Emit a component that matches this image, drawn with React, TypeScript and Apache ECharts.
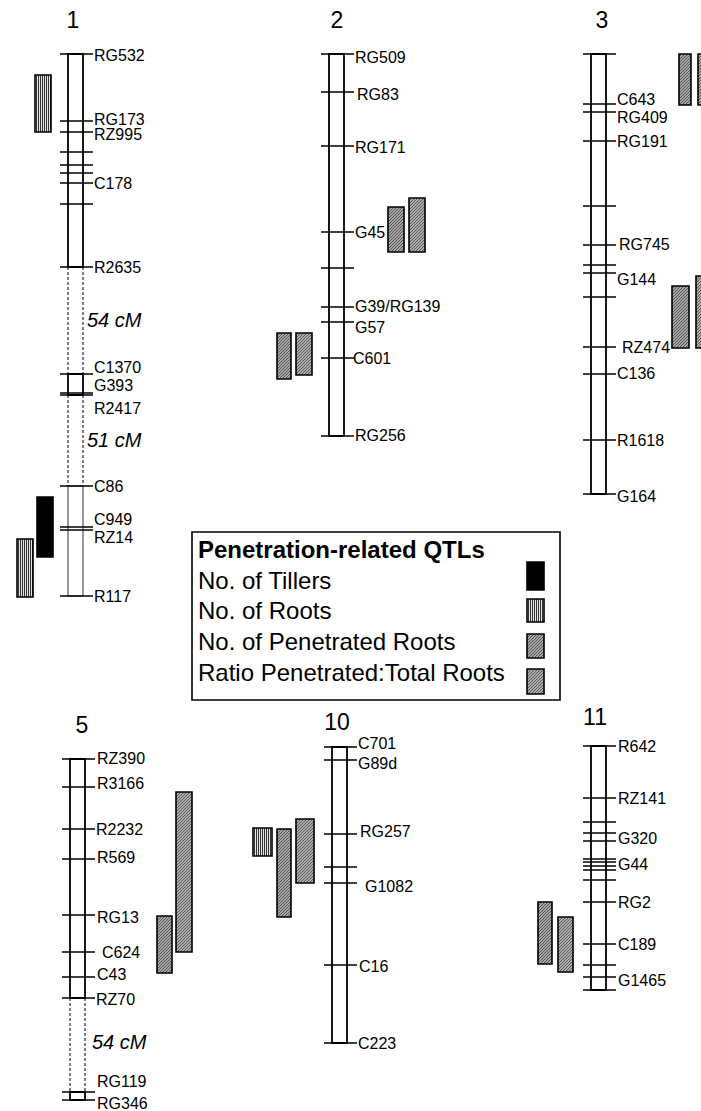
import React, { useEffect, useRef } from "react";
import * as echarts from "echarts";

// ---------- DATA ----------
const CHROMOSOMES = ["1", "2", "3", "5", "10", "11"];

// chromosome segments: [chromosome index, start, end, style] style 0 = solid, 1 = dashed gap, 2 = thin solid
const SEGMENTS = [
  [0, 54, 267, 0], [0, 267, 374, 1], [0, 374, 395, 0], [0, 395, 486, 1], [0, 486, 596, 2],
  [1, 54, 436, 0],
  [2, 54, 494, 0],
  [3, 759, 998, 0], [3, 998, 1092, 1], [3, 1092, 1100, 0],
  [4, 747, 1043, 0],
  [5, 746, 990, 0],
];

// marker positions: [chromosome index, position]
const MARKERS = [
  [0, 54], [0, 121], [0, 132], [0, 152], [0, 165], [0, 173], [0, 183], [0, 204], [0, 267],
  [0, 374], [0, 393], [0, 395], [0, 486], [0, 527], [0, 530], [0, 596],
  [1, 54], [1, 92], [1, 146], [1, 232], [1, 268], [1, 307], [1, 322], [1, 358], [1, 436],
  [2, 54], [2, 104], [2, 112], [2, 141], [2, 206], [2, 245], [2, 265], [2, 273], [2, 297],
  [2, 347], [2, 374], [2, 440], [2, 494],
  [3, 759], [3, 787], [3, 829], [3, 859], [3, 915], [3, 952], [3, 977], [3, 998], [3, 1092], [3, 1100],
  [4, 747], [4, 760], [4, 834], [4, 867], [4, 883], [4, 965], [4, 1043],
  [5, 746], [5, 798], [5, 822], [5, 833], [5, 841], [5, 859], [5, 862], [5, 866], [5, 870],
  [5, 880], [5, 902], [5, 944], [5, 965], [5, 977], [5, 990],
];

// marker labels: [chromosome index, name, label position, extra offset]
const LABELS: [number, string, number, number][] = [
  [0, "RG532", 55, 0], [0, "RG173", 119, 0], [0, "RZ995", 134, 0], [0, "C178", 183, 0],
  [0, "R2635", 267, 0], [0, "C1370", 367, 0], [0, "G393", 385, 0], [0, "R2417", 408, 0],
  [0, "C86", 486, 0], [0, "C949", 519, 0], [0, "RZ14", 537, 0], [0, "R117", 596, 0],
  [1, "RG509", 57, 0], [1, "RG83", 94, 2], [1, "RG171", 147, 0], [1, "G45", 232, 0],
  [1, "G39/RG139", 306, 0], [1, "G57", 327, 0], [1, "C601", 358, -2], [1, "RG256", 435, 0],
  [2, "C643", 99, 0], [2, "RG409", 117, 0], [2, "RG191", 141, 0], [2, "RG745", 244, 2],
  [2, "G144", 279, 0], [2, "RZ474", 347, 5], [2, "C136", 373, 0], [2, "R1618", 440, 0], [2, "G164", 496, 0],
  [3, "RZ390", 758, 1], [3, "R3166", 783, 1], [3, "R2232", 829, 0], [3, "R569", 857, 1],
  [3, "RG13", 917, 1], [3, "C624", 952, 6], [3, "C43", 974, 1], [3, "RZ70", 999, 0],
  [3, "RG119", 1081, 1], [3, "RG346", 1103, 1],
  [4, "C701", 743, 0], [4, "G89d", 763, 0], [4, "RG257", 831, 2], [4, "G1082", 886, 7],
  [4, "C16", 966, 1], [4, "C223", 1043, 0],
  [5, "R642", 746, 1], [5, "RZ141", 798, 1], [5, "G320", 838, 1], [5, "G44", 864, 1],
  [5, "RG2", 902, 1], [5, "C189", 944, 1], [5, "G1465", 980, 1],
];

// gap distances: [chromosome index, text, position]
const GAPS: [number, string, number][] = [
  [0, "54 cM", 320], [0, "51 cM", 440], [3, "54 cM", 1042],
];

const TRAITS = ["No. of Tillers", "No. of Roots", "No. of Penetrated Roots", "Ratio Penetrated:Total Roots"];
const LEGEND_TITLE = "Penetration-related QTLs";

// QTL intervals: [chromosome index, trait index, start, end]
const QTLS = [
  [0, 1, 75, 132], [0, 0, 497, 557], [0, 1, 539, 597],
  [1, 2, 207, 252], [1, 3, 198, 252], [1, 2, 333, 379], [1, 3, 333, 375],
  [2, 2, 54, 105], [2, 3, 54, 105], [2, 2, 286, 348], [2, 3, 276, 348],
  [3, 2, 916, 973], [3, 3, 792, 952],
  [4, 1, 828, 856], [4, 2, 829, 917], [4, 3, 819, 883],
  [5, 2, 902, 964], [5, 3, 917, 972],
];

// ---------- LAYOUT ----------
const W = 701;
const H = 1111;
const BAR_LEFT = [68, 329, 591, 70, 332, 591];
const BAR_W = 15;
const TITLE_X = [73, 337, 602, 82, 337, 595];
const TITLE_Y = [20, 20, 20, 725, 722, 717];
const QTL_X = [35, 37, 17, 388, 409, 277, 296, 679, 698, 672, 696, 157, 176, 253, 277, 296, 538, 558];
const QTL_W = [16, 16, 16, 16, 16, 14, 16, 12, 16, 17, 16, 15, 16, 19, 14, 18, 14, 15];
const FONT = '"Liberation Sans", Arial, Helvetica, sans-serif';

function makePattern(w: number, h: number, paint: (x: number, y: number) => string) {
  const c = document.createElement("canvas");
  c.width = w;
  c.height = h;
  const ctx = c.getContext("2d")!;
  for (let x = 0; x < w; x++) {
    for (let y = 0; y < h; y++) {
      ctx.fillStyle = paint(x, y);
      ctx.fillRect(x, y, 1, 1);
    }
  }
  return { image: c.toDataURL(), imageWidth: w, imageHeight: h, repeat: "repeat" };
}

export default function App() {
  const ref = useRef<HTMLDivElement>(null);

  useEffect(() => {
    document.body.style.margin = "0";
    if (!ref.current) return;
    const chart = echarts.init(ref.current, undefined, { renderer: "svg" });

    const fills: any[] = [
      "#000000",
      makePattern(2, 1, (x) => (x === 0 ? "#333333" : "#e4e4e4")),
      makePattern(3, 3, (x, y) => ((x + y) % 3 === 0 ? "#555555" : "#a6a6a6")),
      makePattern(3, 3, (x, y) => ((x + y) % 3 === 0 ? "#5c5c5c" : "#acacac")),
    ];

    const textStyle = (align: string) => ({
      align, verticalAlign: "middle", textAlign: align, textVerticalAlign: "middle",
    });

    const segSeries = {
      type: "custom",
      coordinateSystem: "cartesian2d",
      z: 1,
      data: SEGMENTS.map((s) => [BAR_LEFT[s[0]], s[1], s[2]]),
      renderItem: (params: any, api: any) => {
        const [c, a, b, st] = SEGMENTS[params.dataIndex];
        const p1 = api.coord([BAR_LEFT[c], a]);
        const p2 = api.coord([BAR_LEFT[c] + BAR_W, b]);
        if (st === 1) {
          return {
            type: "group",
            children: [
              { type: "line", shape: { x1: p1[0], y1: p1[1], x2: p1[0], y2: p2[1] }, style: { stroke: "#000", lineWidth: 1, lineDash: [3, 2] } },
              { type: "line", shape: { x1: p2[0], y1: p1[1], x2: p2[0], y2: p2[1] }, style: { stroke: "#000", lineWidth: 1, lineDash: [3, 2] } },
            ],
          };
        }
        return {
          type: "rect",
          shape: { x: p1[0], y: p1[1], width: p2[0] - p1[0], height: p2[1] - p1[1] },
          style: { fill: "#fff", stroke: st === 2 ? "#555" : "#000", lineWidth: st === 2 ? 1.2 : 1.8 },
        };
      },
    };

    const markerSeries = {
      type: "custom",
      coordinateSystem: "cartesian2d",
      z: 2,
      data: MARKERS.map((m) => [BAR_LEFT[m[0]], m[1]]),
      renderItem: (params: any, api: any) => {
        const [c, pos] = MARKERS[params.dataIndex];
        const p1 = api.coord([BAR_LEFT[c] - 8, pos]);
        const p2 = api.coord([BAR_LEFT[c] + BAR_W + 10, pos]);
        return {
          type: "line",
          shape: { x1: p1[0], y1: p1[1], x2: p2[0], y2: p2[1] },
          style: { stroke: "#000", lineWidth: 1.6 },
        };
      },
    };

    const labelSeries = {
      type: "custom",
      coordinateSystem: "cartesian2d",
      z: 3,
      data: LABELS.map((l) => [BAR_LEFT[l[0]] + BAR_W + 11 + l[3], l[2]]),
      renderItem: (params: any, api: any) => {
        const [c, name, pos, dx] = LABELS[params.dataIndex];
        const p = api.coord([BAR_LEFT[c] + BAR_W + 11 + dx, pos]);
        return {
          type: "text",
          style: {
            text: name, x: p[0], y: p[1], fill: "#000",
            fontSize: 16, fontFamily: FONT, ...textStyle("left"),
          },
        };
      },
    };

    const gapSeries = {
      type: "custom",
      coordinateSystem: "cartesian2d",
      z: 3,
      data: GAPS.map((g) => [BAR_LEFT[g[0]] + BAR_W + 4, g[2]]),
      renderItem: (params: any, api: any) => {
        const [c, t, pos] = GAPS[params.dataIndex];
        const p = api.coord([BAR_LEFT[c] + BAR_W + (c === 3 ? 7 : 4), pos]);
        return {
          type: "text",
          style: {
            text: t, x: p[0], y: p[1], fill: "#000",
            fontSize: 20, fontStyle: "italic", fontFamily: FONT, ...textStyle("left"),
          },
        };
      },
    };

    const titleSeries = {
      type: "custom",
      coordinateSystem: "cartesian2d",
      z: 3,
      data: CHROMOSOMES.map((_, i) => [TITLE_X[i], TITLE_Y[i]]),
      renderItem: (params: any, api: any) => {
        const i = params.dataIndex;
        const p = api.coord([TITLE_X[i], TITLE_Y[i]]);
        return {
          type: "text",
          style: {
            text: CHROMOSOMES[i], x: p[0], y: p[1], fill: "#000",
            fontSize: 23, fontFamily: FONT, ...textStyle("center"),
          },
        };
      },
    };

    const qtlSeries = {
      type: "custom",
      coordinateSystem: "cartesian2d",
      z: 4,
      data: QTLS.map((q, i) => [QTL_X[i], q[2], q[3]]),
      renderItem: (params: any, api: any) => {
        const i = params.dataIndex;
        const [, trait, a, b] = QTLS[i];
        const p1 = api.coord([QTL_X[i], a]);
        const p2 = api.coord([QTL_X[i] + QTL_W[i], b]);
        return {
          type: "rect",
          shape: { x: p1[0], y: p1[1], width: p2[0] - p1[0], height: p2[1] - p1[1] },
          style: { fill: fills[trait], stroke: "#000", lineWidth: 1.6 },
        };
      },
    };

    // legend drawn with graphic elements
    const LX = 192, LY = 532, LW = 368, LH = 168;
    const rowY = [580, 610, 641, 672];
    const sw = [[562, 590], [599, 622], [634, 658], [669, 694]];
    const legendChildren: any[] = [
      { type: "rect", shape: { x: LX, y: LY, width: LW, height: LH }, style: { fill: "#fff", stroke: "#000", lineWidth: 1.6 } },
      {
        type: "text", x: 198, y: 549,
        style: { text: LEGEND_TITLE, fill: "#000", fontSize: 24, fontWeight: "bold", fontFamily: FONT, ...textStyle("left") },
      },
    ];
    TRAITS.forEach((t, i) => {
      legendChildren.push({
        type: "text", x: 198, y: rowY[i],
        style: { text: t, fill: "#000", fontSize: 24, fontFamily: FONT, ...textStyle("left") },
      });
      legendChildren.push({
        type: "rect",
        shape: { x: 527, y: sw[i][0], width: 17, height: sw[i][1] - sw[i][0] },
        style: { fill: fills[i], stroke: "#000", lineWidth: 1.6 },
      });
    });

    chart.setOption({
      animation: false,
      backgroundColor: "#fff",
      grid: { left: 0, right: 0, top: 0, bottom: 0 },
      xAxis: { type: "value", min: 0, max: W, show: false },
      yAxis: { type: "value", min: 0, max: H, inverse: true, show: false },
      series: [segSeries, markerSeries, labelSeries, gapSeries, titleSeries, qtlSeries],
      graphic: [{ type: "group", children: legendChildren }],
    });

    return () => chart.dispose();
  }, []);

  return <div ref={ref} style={{ width: W, height: H }} />;
}
